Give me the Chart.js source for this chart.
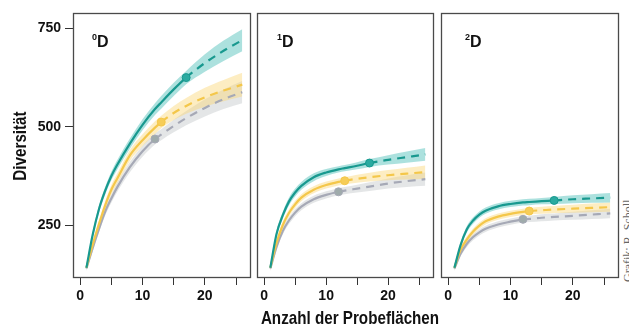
<!DOCTYPE html>
<html>
<head>
<meta charset="utf-8">
<script src="https://cdn.jsdelivr.net/npm/chart.js@4.4.1/dist/chart.umd.min.js"></script>
<style>
  html, body { margin: 0; padding: 0; background: #fff; }
  #wrap { position: relative; width: 629px; height: 329px; overflow: hidden; }
  canvas { position: absolute; top: 0; }
  #c1 { left: 0; }
  #c2 { left: 255px; }
  #c3 { left: 439px; }
  .xtitle { position: absolute; left: 200px; width: 300px; top: 307px; text-align: center; white-space: nowrap;
    font: bold 19px 'Liberation Sans', Arial, sans-serif; color: #111;
    transform: scaleX(0.8); transform-origin: 150px 0; }
  .credit { position: absolute; left: 583px; top: 230px; width: 90px; height: 14px; line-height: 14px;
    transform: rotate(-90deg); font-family: 'Liberation Serif', 'DejaVu Serif', serif; font-size: 12px;
    font-weight: normal; color: #666; white-space: nowrap; }
</style>
</head>
<body>
<div id="wrap">
  <canvas id="c1" width="252" height="310"></canvas>
  <canvas id="c2" width="180" height="310"></canvas>
  <canvas id="c3" width="181" height="310"></canvas>
  <div class="xtitle">Anzahl der Probeflächen</div>
  <div class="credit">Grafik: R. Scholl</div>
</div>
<script>
// Anzahl der Probeflächen (x positions shared by all curves)
const xs = [1, 2, 3, 4, 5, 6, 8, 10, 12, 13, 15, 17, 20, 23, 26];
// observed sample size per group (solid up to here, dashed beyond)
const obsTeal = 17, obsYellow = 13, obsGray = 12;

// 0D
const q0Teal     = [142, 225, 290, 337, 375, 405, 458, 505, 545, 562, 595, 625, 662, 693, 720];
const q0TealLo   = [136, 217, 281, 327, 364, 393, 445, 491, 530, 546, 578, 608, 640, 667, 692];
const q0TealHi   = [148, 233, 299, 347, 386, 417, 471, 519, 560, 578, 612, 642, 684, 719, 748];
const q0Yellow   = [142, 200, 252, 300, 340, 370, 428, 466, 498, 512, 535, 553, 575, 592, 607];
const q0YellowLo = [135, 191, 242, 289, 328, 357, 414, 451, 482, 496, 517, 533, 551, 565, 577];
const q0YellowHi = [149, 209, 262, 311, 352, 383, 442, 481, 514, 528, 553, 573, 599, 619, 637];
const q0Gray     = [140, 192, 240, 284, 318, 348, 398, 438, 469, 480, 502, 522, 548, 570, 588];
const q0GrayLo   = [133, 184, 231, 274, 307, 336, 385, 424, 455, 466, 486, 504, 526, 545, 560];
const q0GrayHi   = [147, 200, 249, 294, 329, 360, 411, 452, 483, 494, 518, 540, 570, 595, 616];

// 1D
const q1Teal     = [142, 228, 275, 310, 333, 350, 372, 384, 392, 395, 401, 408, 416, 423, 430];
const q1TealLo   = [136, 220, 266, 300, 323, 340, 362, 375, 384, 387, 392, 398, 404, 409, 414];
const q1TealHi   = [148, 236, 284, 320, 343, 360, 382, 393, 400, 403, 410, 418, 428, 437, 446];
const q1Yellow   = [142, 205, 250, 281, 303, 320, 340, 352, 360, 363, 368, 372, 377, 381, 385];
const q1YellowLo = [135, 197, 241, 272, 294, 311, 331, 343, 351, 354, 358, 361, 364, 366, 368];
const q1YellowHi = [149, 213, 259, 290, 312, 329, 349, 361, 369, 372, 378, 383, 390, 396, 402];
const q1Gray     = [140, 195, 235, 262, 282, 297, 316, 327, 335, 338, 343, 348, 356, 362, 367];
const q1GrayLo   = [133, 187, 226, 253, 273, 288, 307, 318, 326, 329, 333, 337, 343, 347, 350];
const q1GrayHi   = [147, 203, 244, 271, 291, 306, 325, 336, 344, 347, 353, 359, 369, 377, 384];

// 2D
const q2Teal     = [142, 200, 240, 262, 277, 287, 298, 304, 308, 309, 311, 313, 316, 318, 320];
const q2TealLo   = [136, 193, 232, 254, 269, 279, 290, 296, 300, 301, 303, 304, 306, 307, 308];
const q2TealHi   = [148, 207, 248, 270, 285, 295, 306, 312, 316, 317, 319, 322, 326, 329, 332];
const q2Yellow   = [142, 188, 214, 234, 249, 260, 272, 279, 284, 286, 288, 290, 292, 294, 296];
const q2YellowLo = [135, 181, 206, 226, 241, 252, 264, 271, 276, 278, 279, 281, 282, 283, 284];
const q2YellowHi = [149, 195, 222, 242, 257, 268, 280, 287, 292, 294, 297, 299, 302, 305, 308];
const q2Gray     = [140, 178, 203, 220, 232, 241, 252, 259, 265, 266, 269, 271, 274, 277, 280];
const q2GrayLo   = [133, 171, 195, 212, 224, 233, 244, 251, 257, 258, 260, 262, 264, 266, 268];
const q2GrayHi   = [147, 185, 211, 228, 240, 249, 260, 267, 273, 274, 278, 280, 284, 288, 292];

const yTicks = [250, 500, 750];
const xTicks = [0, 5, 10, 15, 20, 25];

const sans = "'Liberation Sans', Arial, sans-serif";

const TEAL = { line: '#18998f', band: 'rgba(70,188,182,0.45)', dot: '#2aaaa0' };
const YELLOW = { line: '#f4c74a', band: 'rgba(250,214,120,0.45)', dot: '#f6cd58' };
const GRAY = { line: '#a6a9b6', band: 'rgba(170,178,180,0.32)', dot: '#9fabab' };

function pts(arr) {
  return xs.map((x, i) => ({ x: x, y: arr[i] }));
}

const panelBox = {
  id: 'panelBox',
  afterDraw(chart, args, opts) {
    const { ctx, chartArea: a } = chart;
    ctx.save();
    ctx.strokeStyle = '#4a4a4a';
    ctx.lineWidth = 1.3;
    ctx.strokeRect(a.left + 0.5, a.top + 0.5, a.right - a.left - 1, a.bottom - a.top - 1);
    // panel label, superscript digit + D
    const x0 = a.left + opts.dx, yb = a.top + 34;
    ctx.fillStyle = '#111';
    ctx.textBaseline = 'alphabetic';
    ctx.font = 'bold 9px ' + sans;
    ctx.fillText(opts.sup, x0, yb - 7);
    const w = ctx.measureText(opts.sup).width;
    ctx.font = 'bold 16px ' + sans;
    ctx.fillText('D', x0 + w, yb);
    // y axis title, condensed like the original
    if (opts.ytitle) {
      ctx.translate(26, 146);
      ctx.rotate(-Math.PI / 2);
      ctx.scale(0.8, 1);
      ctx.textAlign = 'center';
      ctx.font = 'bold 19px ' + sans;
      ctx.fillText(opts.ytitle, 0, 0);
    }
    ctx.restore();
  }
};

function makePanel(id, sup, dx, series, first) {
  const datasets = [];
  // lines first so they sit on top
  series.forEach(s => {
    datasets.push({
      data: pts(s.mid),
      borderColor: s.col.line,
      borderWidth: 2.2,
      cubicInterpolationMode: 'monotone',
      tension: 0.4,
      pointRadius: ctx => (ctx.raw && ctx.raw.x === s.obs ? 4 : 0),
      pointBackgroundColor: s.col.dot,
      pointBorderColor: s.col.line,
      pointBorderWidth: 1,
      segment: { borderDash: ctx => (ctx.p0.parsed.x >= s.obs ? [8, 6] : undefined) },
      fill: false,
      order: 1
    });
  });
  series.forEach(s => {
    const hiIdx = datasets.length;
    datasets.push({
      data: pts(s.hi),
      borderWidth: 0,
      pointRadius: 0,
      cubicInterpolationMode: 'monotone',
      tension: 0.4,
      backgroundColor: s.col.band,
      fill: hiIdx + 1,
      order: 5
    });
    datasets.push({
      data: pts(s.lo),
      borderWidth: 0,
      pointRadius: 0,
      cubicInterpolationMode: 'monotone',
      tension: 0.4,
      fill: false,
      order: 5
    });
  });

  return new Chart(document.getElementById(id), {
    type: 'line',
    data: { datasets: datasets },
    plugins: [panelBox],
    options: {
      responsive: false,
      animation: false,
      layout: { padding: { top: 13, right: 1, left: first ? 0 : 2, bottom: 0 } },
      plugins: {
        legend: { display: false },
        tooltip: { enabled: false },
        panelBox: { sup: sup, dx: dx, ytitle: first ? 'Diversität' : '' }
      },
      scales: {
        x: {
          type: 'linear',
          min: -1.15,
          max: 27.4,
          afterBuildTicks: sc => { sc.ticks = xTicks.map(v => ({ value: v })); },
          afterFit: sc => { sc.height = 32; },
          ticks: {
            autoSkip: false,
            maxRotation: 0,
            padding: 3,
            color: '#111',
            font: { family: sans, size: 14, weight: 'bold' },
            callback: v => (v % 10 === 0 ? String(v) : '')
          },
          grid: { drawOnChartArea: false, drawTicks: true, tickLength: 7, color: '#333', lineWidth: 1 },
          border: { display: false }
        },
        y: {
          display: first,
          min: 116,
          max: 789,
          afterBuildTicks: sc => { sc.ticks = yTicks.map(v => ({ value: v })); },
          afterFit: sc => { if (first) sc.width = 73; },
          ticks: {
            padding: 4,
            color: '#111',
            font: { family: sans, size: 14, weight: 'bold' }
          },
          grid: { drawOnChartArea: false, drawTicks: true, tickLength: 8, color: '#333', lineWidth: 1 },
          border: { display: false }
        }
      }
    }
  });
}

makePanel('c1', '0', 19, [
  { mid: q0Teal, lo: q0TealLo, hi: q0TealHi, obs: obsTeal, col: TEAL },
  { mid: q0Yellow, lo: q0YellowLo, hi: q0YellowHi, obs: obsYellow, col: YELLOW },
  { mid: q0Gray, lo: q0GrayLo, hi: q0GrayHi, obs: obsGray, col: GRAY }
], true);

makePanel('c2', '1', 20, [
  { mid: q1Teal, lo: q1TealLo, hi: q1TealHi, obs: obsTeal, col: TEAL },
  { mid: q1Yellow, lo: q1YellowLo, hi: q1YellowHi, obs: obsYellow, col: YELLOW },
  { mid: q1Gray, lo: q1GrayLo, hi: q1GrayHi, obs: obsGray, col: GRAY }
], false);

makePanel('c3', '2', 24, [
  { mid: q2Teal, lo: q2TealLo, hi: q2TealHi, obs: obsTeal, col: TEAL },
  { mid: q2Yellow, lo: q2YellowLo, hi: q2YellowHi, obs: obsYellow, col: YELLOW },
  { mid: q2Gray, lo: q2GrayLo, hi: q2GrayHi, obs: obsGray, col: GRAY }
], false);
</script>
</body>
</html>
